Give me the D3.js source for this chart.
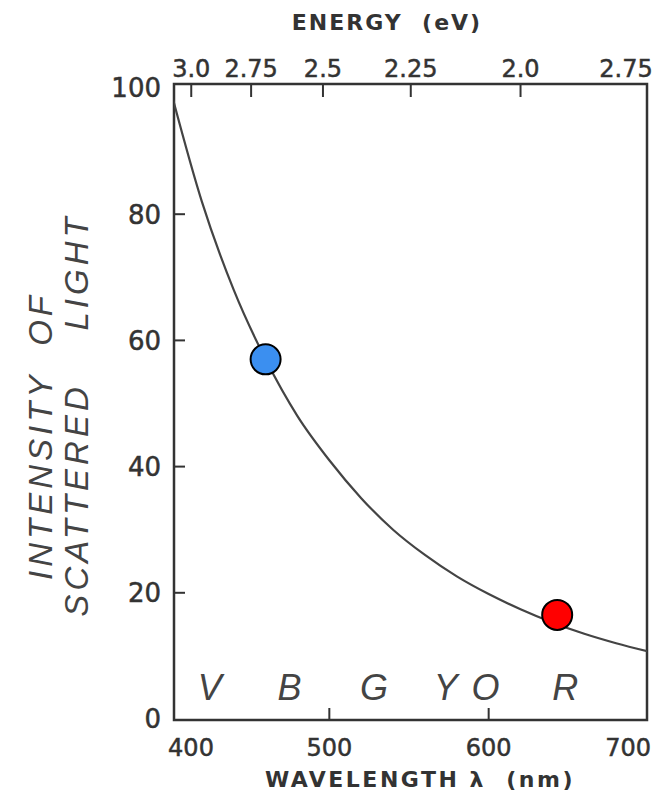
<!DOCTYPE html>
<html>
<head>
<meta charset="utf-8">
<script src="https://cdn.jsdelivr.net/npm/d3@7"></script>
<style>
  body { margin: 0; background: #fff; }
  text { font-family: "DejaVu Sans", sans-serif; fill: #333; }
  .tick { font-size: 24px; stroke: #333; stroke-width: 0.5; }
  .title { font-size: 22px; font-weight: bold; letter-spacing: 2px; }
  .ital { font-family: "Liberation Sans", sans-serif; font-style: italic; fill: #444; }
</style>
</head>
<body>
<script>
// curve: wavelength (nm) -> relative intensity
var wavelengths = [400, 420, 440, 460, 480, 500, 520, 540, 560, 580, 600, 620, 640, 660, 680, 700];
var intensity   = [100, 82, 68, 57, 48, 41, 35, 30, 26, 22.6, 19.8, 17.4, 15.3, 13.5, 12.0, 10.7];

// highlighted points
var dotLambda = [460, 643];
var dotValue  = [57, 16.5];
var dotColor  = ["#3b8ff0", "#ff0000"];

// axis ticks
var yTicks = [0, 20, 40, 60, 80, 100];
var xTicks = [400, 500, 600, 700];
var energyTicks  = [3.0, 2.75, 2.5, 2.25, 2.0];
var energyLabels = ["3.0", "2.75", "2.5", "2.25", "2.0"];
var lastEnergyLabel = "2.75";

// colour band letters and where they sit (nm)
var bandLetters = ["V", "B", "G", "Y", "O", "R"];
var bandLambda  = [425, 475, 528, 573, 598, 648];

var width = 654, height = 792;
var fLeft = 174, fRight = 647, fTop = 84, fBottom = 720;

var svg = d3.select("body").append("svg")
    .attr("width", width)
    .attr("height", height);

var x = d3.scaleLinear().domain([400, 700]).range([170, 648]);
var y = d3.scaleLinear().domain([0, 100]).range([719, 88]);

// frame
svg.append("rect")
    .attr("x", fLeft).attr("y", fTop)
    .attr("width", fRight - fLeft).attr("height", fBottom - fTop)
    .attr("fill", "none").attr("stroke", "#333").attr("stroke-width", 2.5);

// y ticks (inward)
svg.selectAll(".ytick").data(yTicks.slice(1, 5)).enter().append("line")
    .attr("x1", fLeft).attr("x2", fLeft + 11)
    .attr("y1", function(d){ return y(d); }).attr("y2", function(d){ return y(d); })
    .attr("stroke", "#333").attr("stroke-width", 2);
svg.selectAll(".ylab").data(yTicks).enter().append("text")
    .attr("class", "tick")
    .attr("x", 161).attr("y", function(d){ return y(d); })
    .attr("dy", "0.36em").attr("text-anchor", "end")
    .attr("font-size", 26)
    .style("font-size", "26px")
    .text(function(d){ return d; });

// bottom ticks
svg.selectAll(".xtick").data([500, 600]).enter().append("line")
    .attr("x1", function(d){ return x(d); }).attr("x2", function(d){ return x(d); })
    .attr("y1", fBottom).attr("y2", fBottom - 12)
    .attr("stroke", "#333").attr("stroke-width", 2);
svg.selectAll(".xlab").data(xTicks).enter().append("text")
    .attr("class", "tick")
    .attr("x", function(d, i){ return i == 0 ? x(d) + 21 : (i == 3 ? 651 : x(d)); })
    .attr("y", 756)
    .attr("text-anchor", function(d, i){ return i == 3 ? "end" : "middle"; })
    .text(function(d){ return d; });
svg.append("text")
    .attr("class", "title")
    .attr("x", 420).attr("y", 787).attr("text-anchor", "middle")
    .attr("xml:space", "preserve")
    .style("letter-spacing", "2.5px")
    .text("WAVELENGTH \u03bb  (nm)");

// top energy axis, placed at wavelength 1240/E
function ex(e){ return x(1240 / e); }
svg.selectAll(".etick").data(energyTicks).enter().append("line")
    .attr("x1", ex).attr("x2", ex)
    .attr("y1", fTop).attr("y2", fTop + 13)
    .attr("stroke", "#333").attr("stroke-width", 2);
svg.selectAll(".elab").data(energyLabels).enter().append("text")
    .attr("class", "tick")
    .attr("x", function(d, i){ return ex(energyTicks[i]); })
    .attr("y", 77).attr("text-anchor", "middle")
    .text(function(d){ return d; });
svg.append("text")
    .attr("class", "tick")
    .attr("x", 626).attr("y", 77).attr("text-anchor", "middle")
    .text(lastEnergyLabel);
svg.append("text")
    .attr("class", "title")
    .attr("x", 387).attr("y", 30).attr("text-anchor", "middle")
    .attr("xml:space", "preserve")
    .text("ENERGY  (eV)");

// y axis title, two italic lines
svg.append("text")
    .attr("class", "ital")
    .attr("transform", "translate(52,436) rotate(-90)")
    .attr("text-anchor", "middle")
    .attr("font-size", 33).attr("letter-spacing", 4)
    .attr("xml:space", "preserve")
    .text("INTENSITY  OF");
svg.append("text")
    .attr("class", "ital")
    .attr("transform", "translate(88,415) rotate(-90)")
    .attr("text-anchor", "middle")
    .attr("font-size", 33).attr("letter-spacing", 4)
    .attr("xml:space", "preserve")
    .text("SCATTERED    LIGHT");

// colour letters
svg.selectAll(".band").data(bandLetters).enter().append("text")
    .attr("class", "ital")
    .attr("x", function(d, i){ return x(bandLambda[i]); })
    .attr("y", 700).attr("text-anchor", "middle")
    .attr("font-size", 36)
    .text(function(d){ return d; });

// curve
svg.append("clipPath").attr("id", "clip").append("rect")
    .attr("x", fLeft).attr("y", fTop).attr("width", fRight - fLeft).attr("height", fBottom - fTop);
var line = d3.line()
    .x(function(d, i){ return x(wavelengths[i]); })
    .y(function(d){ return y(d); })
    .curve(d3.curveMonotoneX);
svg.append("path")
    .datum(intensity)
    .attr("clip-path", "url(#clip)")
    .attr("d", line)
    .attr("fill", "none").attr("stroke", "#444").attr("stroke-width", 2.2);

// dots
svg.selectAll(".dot").data(dotValue).enter().append("circle")
    .attr("cx", function(d, i){ return x(dotLambda[i]); })
    .attr("cy", function(d){ return y(d); })
    .attr("r", 15)
    .attr("fill", function(d, i){ return dotColor[i]; })
    .attr("stroke", "#000").attr("stroke-width", 2);
</script>
</body>
</html>
